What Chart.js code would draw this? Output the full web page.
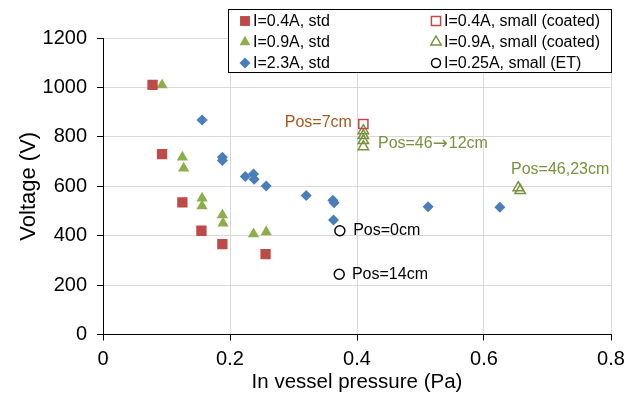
<!DOCTYPE html>
<html>
<head>
<meta charset="utf-8">
<script src="https://cdn.jsdelivr.net/npm/chart.js@4.4.1/dist/chart.umd.min.js"></script>
<style>
  html, body { margin: 0; padding: 0; background: #fff; }
  #wrap { width: 638px; height: 399px; }
</style>
</head>
<body>
<div id="wrap"><canvas id="chart"></canvas></div>
<script>
// pressure (Pa) / voltage (V) per series
const pres04 = [0.078, 0.093, 0.125, 0.155, 0.188, 0.256];
const volt04 = [1010, 730, 535, 420, 366, 325];

const pres09 = [0.093, 0.125, 0.127, 0.156, 0.156, 0.188, 0.189, 0.237, 0.257];
const volt09 = [1010, 717, 673, 551, 520, 484, 450, 407, 415];

const pres23 = [0.156, 0.188, 0.188, 0.224, 0.237, 0.238, 0.257, 0.320, 0.362, 0.364, 0.363, 0.512, 0.625];
const volt23 = [868, 717, 704, 639, 650, 628, 601, 563, 543, 533, 463, 517, 515];

const pres04s = [0.41];
const volt04s = [852];

const pres09s = [0.41, 0.41, 0.41, 0.41, 0.654, 0.657];
const volt09s = [825, 805, 785, 760, 594, 583];

const pres025 = [0.373, 0.372];
const volt025 = [420, 244];

const xTicks = [0, 0.2, 0.4, 0.6, 0.8];
const yTicks = [0, 200, 400, 600, 800, 1000, 1200];

// annotation text (split where the arrow goes), anchored in data units
const noteText = [["Pos=7cm"], ["Pos=46", "\u2192", "12cm"], ["Pos=46,23cm"], ["Pos=0cm"], ["Pos=14cm"]];
const noteX = [0.392, 0.433, 0.6425, 0.394, 0.392];
const noteY = [856, 771, 666, 419, 241];

const RED = "#BE4B48", GREEN = "#8CAF4B", BLUE = "#4A7EBB", DKGREEN = "#77933C", BROWN = "#A9561E";
const FONT = "'Liberation Sans', Arial, sans-serif";

function pts(xs, ys) { return xs.map((x, i) => ({ x: x, y: ys[i] })); }

const series = [
  { label: "I=0.4A, std", data: pts(pres04, volt04), pointStyle: "rect", pointRadius: 7.3, backgroundColor: RED, borderColor: RED, borderWidth: 0 },
  { label: "I=0.9A, std", data: pts(pres09, volt09), pointStyle: "triangle", pointRadius: 6.5, backgroundColor: GREEN, borderColor: GREEN, borderWidth: 0 },
  { label: "I=2.3A, std", data: pts(pres23, volt23), pointStyle: "rectRot", pointRadius: 5.5, backgroundColor: BLUE, borderColor: BLUE, borderWidth: 0 },
  { label: "I=0.4A, small (coated)", data: pts(pres04s, volt04s), pointStyle: "rect", pointRadius: 6.5, backgroundColor: "rgba(0,0,0,0)", borderColor: RED, borderWidth: 1.5 },
  { label: "I=0.9A, small (coated)", data: pts(pres09s, volt09s), pointStyle: "triangle", pointRadius: 6, backgroundColor: "rgba(0,0,0,0)", borderColor: DKGREEN, borderWidth: 1.5 },
  { label: "I=0.25A, small (ET)", data: pts(pres025, volt025), pointStyle: "circle", pointRadius: 5, backgroundColor: "rgba(0,0,0,0)", borderColor: "#000", borderWidth: 1.5 }
];

function shape(ctx, style, x, y, r, fill, stroke, lw) {
  ctx.save();
  ctx.beginPath();
  if (style === "rect") {
    const s = r * Math.SQRT1_2;
    ctx.rect(x - s, y - s, 2 * s, 2 * s);
  } else if (style === "triangle") {
    ctx.moveTo(x, y - r);
    ctx.lineTo(x + r * 0.866, y + r / 2);
    ctx.lineTo(x - r * 0.866, y + r / 2);
    ctx.closePath();
  } else if (style === "rectRot") {
    ctx.moveTo(x, y - r); ctx.lineTo(x + r, y); ctx.lineTo(x, y + r); ctx.lineTo(x - r, y);
    ctx.closePath();
  } else {
    ctx.arc(x, y, r, 0, Math.PI * 2);
  }
  if (lw) { ctx.lineWidth = lw; ctx.strokeStyle = stroke; ctx.stroke(); }
  else { ctx.fillStyle = fill; ctx.fill(); }
  ctx.restore();
}

// legend marker radius per entry
const legendR = [7, 6.3, 5.5, 6.5, 6, 4.5];

const extras = {
  id: "extras",
  afterDatasetsDraw(chart) {
    const ctx = chart.ctx;
    const xs = chart.scales.x, ys = chart.scales.y;
    const colors = [BROWN, DKGREEN, DKGREEN, "#000", "#000"];
    ctx.save();
    ctx.textBaseline = "middle";
    noteText.forEach((parts, i) => {
      ctx.fillStyle = colors[i];
      let px = xs.getPixelForValue(noteX[i]);
      const py = ys.getPixelForValue(noteY[i]);
      if (i === 0) {
        ctx.font = "16px " + FONT;
        ctx.textAlign = "right";
        ctx.fillText(parts[0], px, py);
        return;
      }
      ctx.textAlign = "left";
      parts.forEach(p => {
        ctx.font = p === "\u2192" ? "18px 'DejaVu Sans', sans-serif" : "16px " + FONT;
        ctx.fillText(p, px, py);
        px += ctx.measureText(p).width + (p === "\u2192" ? 1 : 0);
      });
    });

    // legend box
    ctx.fillStyle = "#fff";
    ctx.fillRect(228, 9, 383, 63);
    ctx.strokeStyle = "#000";
    ctx.lineWidth = 1;
    ctx.strokeRect(228.5, 9.5, 383, 63);
    ctx.font = "16px " + FONT;
    ctx.textAlign = "left";
    series.forEach((s, i) => {
      const col = Math.floor(i / 3), row = i % 3;
      const mx = col ? 436 : 245, tx = col ? 444 : 253;
      const my = 21 + row * 21;
      shape(ctx, s.pointStyle, mx, my, legendR[i], s.backgroundColor, s.borderColor, s.borderWidth);
      ctx.fillStyle = "#000";
      ctx.fillText(s.label, tx, my + 1);
    });
    ctx.restore();
  }
};

new Chart(document.getElementById("chart"), {
  type: "scatter",
  data: { datasets: series },
  plugins: [extras],
  options: {
    responsive: true,
    maintainAspectRatio: false,
    animation: false,
    layout: { padding: { top: 38, right: 27, left: 0, bottom: 0 } },
    plugins: { legend: { display: false }, tooltip: { enabled: false } },
    scales: {
      x: {
        type: "linear", min: 0, max: 0.8,
        afterBuildTicks: s => { s.ticks = xTicks.map(v => ({ value: v })); },
        afterFit: s => { s.height = 64.5; },
        grid: { color: "#D9D9D9", tickColor: "#000", tickLength: 6 },
        border: { color: "#000" },
        ticks: { color: "#000", font: { family: FONT, size: 20 }, padding: 7, maxRotation: 0, callback: v => String(v) },
        title: { display: true, text: "In vessel pressure (Pa)", color: "#000", font: { family: FONT, size: 20.5 }, padding: { top: 0, bottom: 4 } }
      },
      y: {
        type: "linear", min: 0, max: 1200,
        afterBuildTicks: s => { s.ticks = yTicks.map(v => ({ value: v })); },
        afterFit: s => { s.width = 103; },
        grid: { color: "#D9D9D9", tickColor: "#000", tickLength: 6 },
        border: { color: "#000" },
        ticks: { color: "#000", font: { family: FONT, size: 20 }, padding: 10, callback: v => String(v) },
        title: { display: true, text: "Voltage (V)", color: "#000", font: { family: FONT, size: 22 }, padding: { top: 16, bottom: 0 } }
      }
    }
  }
});
</script>
</body>
</html>
